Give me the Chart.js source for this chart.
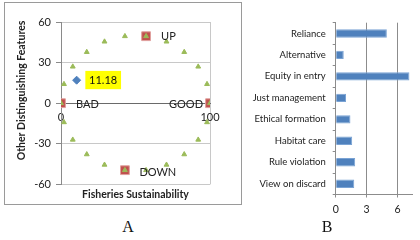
<!DOCTYPE html>
<html>
<head>
<meta charset="utf-8">
<script src="https://cdn.jsdelivr.net/npm/chart.js@4/dist/chart.umd.min.js"></script>
<style>
  body { margin: 0; background: #fff; width: 420px; height: 240px; position: relative; overflow: hidden; }
  #frame_a { position: absolute; left: 4px; top: 2px; width: 236px; height: 201px; border: 1px solid #9a9a9a; }
  #chart_a { position: absolute; left: 5px; top: 3px; }
  #chart_b { position: absolute; left: 245px; top: 10px; }
  .caption { position: absolute; top: 218px; font: 16px "Liberation Serif", serif; color: #111; width: 40px; text-align: center; }
</style>
</head>
<body>
<div id="frame_a"></div>
<canvas id="chart_a" width="236" height="201"></canvas>
<canvas id="chart_b" width="175" height="212"></canvas>
<div class="caption" style="left:108px">A</div>
<div class="caption" style="left:307px">B</div>
<script>
const FONT = "Lato, 'Liberation Sans', sans-serif"

// ---- chart A data ----
const circle_x = [0, 2.0, 7.9, 17.3, 29.2, 42.9, 57.1, 70.8, 82.7, 92.1, 98.0, 100,
                  98.0, 92.1, 82.7, 70.8, 57.1, 42.9, 29.2, 17.3, 7.9, 2.0]
const circle_y = [0, 14.1, 27.0, 37.8, 45.5, 49.5, 49.5, 45.5, 37.8, 27.0, 14.1, 0,
                  -14.1, -27.0, -37.8, -45.5, -49.5, -49.5, -45.5, -37.8, -27.0, -14.1]
const anchor_names = ['BAD', 'GOOD', 'UP', 'DOWN']
const anchor_x = [0, 100, 57.1, 42.9]
const anchor_y = [0, 0, 49.5, -49.5]
const score_x = [10.5]
const score_y = [17]
const score_label = '11.18'
const x_ticks_a = [0, 100]
const y_ticks_a = [-60, -30, 0, 30, 60]

// ---- chart B data ----
const attributes = ['Reliance', 'Alternative', 'Equity in entry', 'Just management',
                    'Ethical formation', 'Habitat care', 'Rule violation', 'View on discard']
const leverage = [4.96, 0.78, 7.15, 1.0, 1.43, 1.6, 1.89, 1.8]
const x_ticks_b = [0, 3, 6]

function toPoints(xs, ys) {
  return xs.map((x, i) => ({x: x, y: ys[i]}))
}

// names next to the anchors and the boxed score next to the blue point
const anchorLabels = {
  id: 'anchorLabels',
  afterDatasetsDraw(chart) {
    let ctx = chart.ctx
    ctx.save()
    ctx.font = "11px " + FONT
    ctx.fillStyle = '#222'
    ctx.textBaseline = 'middle'
    let sq = chart.getDatasetMeta(1).data
    // offsets: [dx, dy, align]
    let offs = [[15, 1, 'left'], [-7, 1, 'right'], [15, 0, 'left'], [14.5, 2.7, 'left']]
    for (let i = 0; i < anchor_names.length; i++) {
      let p = sq[i]
      ctx.textAlign = offs[i][2]
      ctx.fillText(anchor_names[i], p.x + offs[i][0], p.y + offs[i][1])
    }
    let d = chart.getDatasetMeta(2).data[0]
    ctx.fillStyle = '#ffff00'
    ctx.fillRect(d.x + 8.7, d.y - 9.3, 35.7, 18.3)
    ctx.fillStyle = '#111'
    ctx.textAlign = 'center'
    ctx.fillText(score_label, d.x + 26.5, d.y + 0.5)
    ctx.restore()
  }
}

let chart_a = new Chart(document.getElementById('chart_a'), {
  type: 'scatter',
  data: {
    datasets: [{
        data: toPoints(circle_x, circle_y),
        pointStyle: 'triangle',
        radius: 2.8,
        backgroundColor: '#9bbb59',
        borderColor: '#9bbb59',
        borderWidth: 1
      }, {
        data: toPoints(anchor_x, anchor_y),
        pointStyle: 'rect',
        radius: 6.2,
        backgroundColor: '#c0504d',
        borderColor: '#e0a09e',
        borderWidth: 1
      }, {
        data: toPoints(score_x, score_y),
        pointStyle: 'rectRot',
        radius: 4,
        backgroundColor: '#4f81bd',
        borderColor: '#4f81bd',
        borderWidth: 1
      }
    ]
  },
  options: {
    responsive: false,
    animation: false,
    layout: { padding: { top: 19, right: 31, left: 0, bottom: 0 } },
    plugins: {
      legend: { display: false },
      tooltip: { enabled: false }
    },
    scales: {
      x: {
        type: 'linear',
        min: 0, max: 100,
        position: { y: 0 },
        afterBuildTicks: (s) => { s.ticks = x_ticks_a.map(v => ({value: v})) },
        grid: { color: '#c8c8c8', drawTicks: false },
        border: { color: '#6a6a6a' },
        ticks: { color: '#222', padding: 8, font: { family: FONT, size: 11 } }
      },
      // second bottom axis only carries the title under the plot
      x2: {
        type: 'linear',
        min: 0, max: 100,
        position: 'bottom',
        grid: { display: false, drawTicks: false },
        border: { display: false },
        ticks: { display: false },
        title: {
          display: true,
          text: 'Fisheries Sustainability',
          color: '#222',
          font: { family: FONT, size: 10.5, weight: 'bold', lineHeight: 1.2 },
          padding: { top: 4, bottom: 3 }
        }
      },
      y: {
        min: -60, max: 60,
        afterBuildTicks: (s) => { s.ticks = y_ticks_a.map(v => ({value: v})) },
        afterFit: (s) => { s.width = 56 },
        grid: {
          color: (c) => c.tick && c.tick.value === 0 ? '#6a6a6a' : '#c8c8c8',
          tickColor: '#8a8a8a',
          tickLength: 5
        },
        border: { color: '#8a8a8a' },
        ticks: { color: '#222', padding: 5, font: { family: FONT, size: 11 } },
        title: {
          display: true,
          text: '          Other Distinguishing Features',
          color: '#222',
          font: { family: FONT, size: 10.5, weight: 'bold', lineHeight: 1.2 },
          padding: { top: 10 }
        }
      }
    }
  },
  plugins: [anchorLabels]
})

let chart_b = new Chart(document.getElementById('chart_b'), {
  type: 'bar',
  data: {
    labels: attributes,
    datasets: [{
      data: leverage,
      backgroundColor: '#4f81bd',
      borderColor: '#7aa3d4',
      borderWidth: 1,
      barPercentage: 0.39,
      categoryPercentage: 1
    }]
  },
  options: {
    indexAxis: 'y',
    responsive: false,
    animation: false,
    layout: { padding: { top: 10, right: 8, left: 0, bottom: 0 } },
    plugins: { legend: { display: false }, tooltip: { enabled: false } },
    scales: {
      x: {
        min: 0, max: 7.4,
        afterBuildTicks: (s) => { s.ticks = x_ticks_b.map(v => ({value: v})) },
        afterFit: (s) => { s.height = 27.5 },
        grid: { color: '#8c8c8c', tickLength: 3 },
        border: { color: '#8c8c8c' },
        ticks: { color: '#222', padding: 6, font: { family: FONT, size: 10.5 } }
      },
      y: {
        afterFit: (s) => { s.width = 90.7 },
        grid: { offset: true, drawOnChartArea: false, color: '#8c8c8c', tickLength: 3 },
        border: { color: '#8c8c8c' },
        ticks: { color: '#222', padding: 7, font: { family: FONT, size: 9.5 } }
      }
    }
  }
})
</script>
</body>
</html>
